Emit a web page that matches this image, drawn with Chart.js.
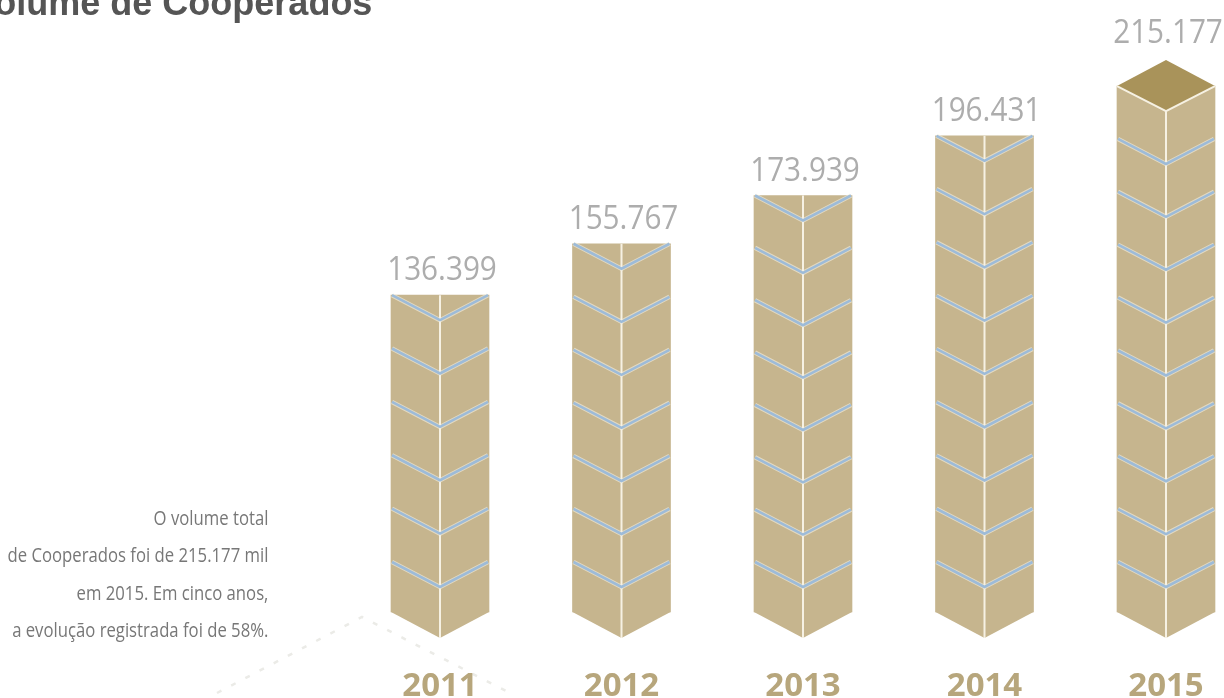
<!DOCTYPE html>
<html lang="pt">
<head>
<meta charset="utf-8">
<title>Volume de Cooperados</title>
<script src="https://cdn.jsdelivr.net/npm/chart.js@4"></script>
<style>
    html, body { margin: 0; background: #fff; overflow: hidden; }
    #wrap { position: relative; width: 1224px; height: 698px; overflow: hidden; }
    #chart { position: absolute; left: 0; top: 0; }
    h1 {
        position: absolute; left: -27px; top: -17px; margin: 0;
        font: bold 36px/40px "Liberation Sans", sans-serif; color: #555; white-space: nowrap;
    }
    #note {
        position: absolute; right: 956px; top: 499px; margin: 0; text-align: right;
        font: 20px/37.4px "Open Sans", sans-serif; color: #777; white-space: nowrap;
        transform: scaleX(0.835); transform-origin: right top;
    }
</style>
</head>
<body>
<div id="wrap">
    <canvas id="chart" width="1224" height="698"></canvas>
    <h1>Volume de Cooperados</h1>
    <p id="note">O volume total<br>de Cooperados foi de 215.177 mil<br>em 2015. Em cinco anos,<br>a evolução registrada foi de 58%.</p>
</div>
<script>
const years = ["2011", "2012", "2013", "2014", "2015"];
const cooperados = [136399, 155767, 173939, 196431, 215177];
const valueLabels = ["136.399", "155.767", "173.939", "196.431", "215.177"];
const axisFloor = 17000;
const axisCeiling = 225000;

const TAN = "#c6b58e";
const CAP = "#a9935a";
const CREAM = "#f6f1e3";
const HALO = "rgba(246, 241, 227, 0.6)";
const BLUE = "#9dbbd8";
const ROW = 53.1;   // height of one box in the stack
const DROP = 25;    // how far the box edges fall towards the middle

// Faint dotted lines behind the first column
const dottedFloor = {
    id: "dottedFloor",
    beforeDraw(chart) {
        const ctx = chart.ctx;
        ctx.save();
        ctx.strokeStyle = "#ebebe7";
        ctx.lineWidth = 2.5;
        ctx.setLineDash([5, 11]);
        ctx.beginPath();
        ctx.moveTo(217, 693);
        ctx.lineTo(362, 617);
        ctx.lineTo(510, 693);
        ctx.stroke();
        ctx.restore();
    }
};

// Turns each plain bar into a stack of boxes and writes its value above it
const boxStack = {
    id: "boxStack",
    afterDatasetsDraw(chart) {
        const ctx = chart.ctx;
        const bars = chart.getDatasetMeta(0).data;

        bars.forEach((bar, i) => {
            const left = bar.x - bar.width / 2;
            const right = bar.x + bar.width / 2;
            const isLast = i === bars.length - 1;
            const firstEdge = bar.base - 50;
            const rows = Math.round((firstEdge - bar.y) / ROW);
            const step = (firstEdge - bar.y) / rows;

            // pointed bottom of the column
            ctx.fillStyle = TAN;
            ctx.beginPath();
            ctx.moveTo(left, bar.base);
            ctx.lineTo(bar.x, bar.base + DROP + 1);
            ctx.lineTo(right, bar.base);
            ctx.closePath();
            ctx.fill();

            // middle fold
            ctx.strokeStyle = CREAM;
            ctx.lineWidth = 2;
            ctx.beginPath();
            ctx.moveTo(bar.x, isLast ? bar.y + DROP : bar.y);
            ctx.lineTo(bar.x, bar.base + DROP + 1);
            ctx.stroke();

            // seams between boxes
            ctx.lineJoin = "miter";
            for (let r = 0; r < (isLast ? rows : rows + 1); r++) {
                const edge = firstEdge - r * step;
                [[HALO, 4.5], [BLUE, 2.6]].forEach(([color, width]) => {
                    ctx.strokeStyle = color;
                    ctx.lineWidth = width;
                    ctx.beginPath();
                    ctx.moveTo(left + 1, edge);
                    ctx.lineTo(bar.x, edge + DROP);
                    ctx.lineTo(right - 1, edge);
                    ctx.stroke();
                });
            }

            // lid on the newest year
            if (isLast) {
                ctx.fillStyle = CAP;
                ctx.beginPath();
                ctx.moveTo(left, bar.y);
                ctx.lineTo(bar.x, bar.y - DROP - 1);
                ctx.lineTo(right, bar.y);
                ctx.lineTo(bar.x, bar.y + DROP);
                ctx.closePath();
                ctx.fill();
                ctx.strokeStyle = CREAM;
                ctx.lineWidth = 2;
                ctx.beginPath();
                ctx.moveTo(left, bar.y);
                ctx.lineTo(bar.x, bar.y + DROP);
                ctx.lineTo(right, bar.y);
                ctx.stroke();
            }

            // value above the column, squeezed a little in width
            ctx.save();
            ctx.translate(bar.x + 2, bar.y - (isLast ? 43 : 15));
            ctx.scale(0.9, 1);
            ctx.fillStyle = "#adadad";
            ctx.font = '400 33px "Open Sans", sans-serif';
            ctx.textAlign = "center";
            ctx.textBaseline = "alphabetic";
            ctx.fillText(valueLabels[i], 0, 0);
            ctx.restore();
        });
    }
};

new Chart(document.getElementById("chart"), {
    type: "bar",
    data: {
        labels: years,
        datasets: [{
            data: cooperados,
            base: axisFloor,
            backgroundColor: TAN,
            borderWidth: 0,
            barThickness: 98,
            clip: false
        }]
    },
    options: {
        responsive: false,
        animation: false,
        layout: { padding: { left: 440, right: 58, top: 60, bottom: 0 } },
        plugins: {
            legend: { display: false },
            title: { display: false },
            tooltip: { enabled: false }
        },
        scales: {
            x: {
                offset: false,
                grid: { display: false },
                border: { display: false },
                afterFit(scale) {
                    scale.height = 86;
                    scale.paddingLeft = 0;
                    scale.paddingRight = 0;
                },
                ticks: {
                    padding: 47,
                    maxRotation: 0,
                    autoSkip: false,
                    color: "#b7a67c",
                    font: { family: "Open Sans", weight: "bold", size: 33 }
                }
            },
            y: { display: false, min: axisFloor, max: axisCeiling }
        }
    },
    plugins: [dottedFloor, boxStack]
});
</script>
</body>
</html>
